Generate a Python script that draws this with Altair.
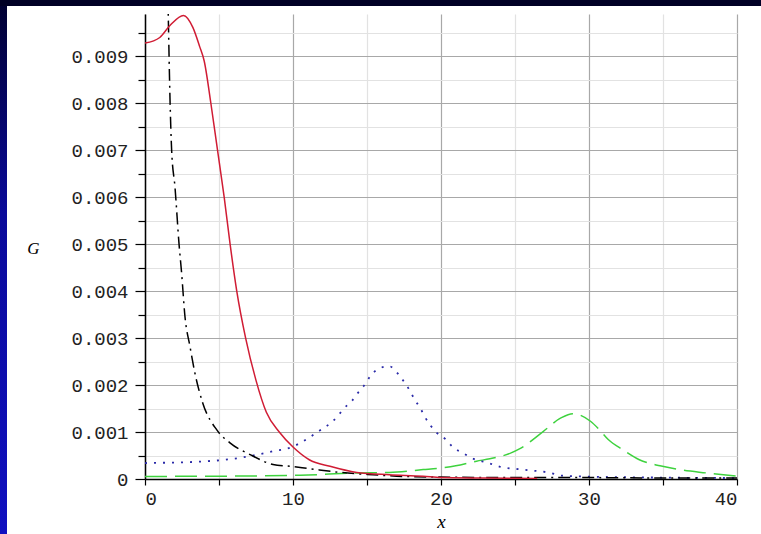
import altair as alt
import pandas as pd

# ---- data ----
red_x = [0, 1.0, 1.7, 2.6, 3.24, 3.7, 4.0, 4.45, 4.9, 5.35, 5.75, 6.2, 6.8, 7.5, 8.2, 9.1, 10.0, 11.1, 12.5, 14.3, 16.5, 18.8, 20, 23, 26.5]
red_g = [0.00928, 0.0094, 0.00966, 0.00987, 0.00961, 0.0092, 0.0089, 0.0080, 0.0070, 0.0060, 0.0050, 0.0040, 0.0030, 0.0021, 0.00142, 0.00099, 0.00068, 0.00041, 0.00027, 0.00014, 0.00009, 0.00006, 0.00003, 0.00002, 0.00001]

blk_x = [1.45, 1.57, 1.69, 1.8, 2.03, 2.3, 2.47, 2.7, 3.04, 3.37, 3.9, 4.84, 5.74, 7.1, 8.65, 9.8, 11.1, 13.2, 15.4, 17, 20, 25, 30, 35, 40]
blk_g = [0.0118, 0.0099, 0.00808, 0.0070, 0.0062, 0.0050, 0.0044, 0.00346, 0.00282, 0.00226, 0.00162, 0.00105, 0.00077, 0.00052, 0.00031, 0.00027, 0.00022, 0.00014, 0.00009, 0.00006, 0.00004, 0.00003, 0.00003, 0.00002, 0.00002]

blu_x = [0, 3.7, 6.4, 8.65, 10, 10.5, 11.8, 12.5, 13.0, 13.4, 14.0, 14.4, 14.9, 15.2, 15.8, 16.5, 17.1, 17.5, 17.9, 18.2, 18.6, 18.9, 19.7, 20.3, 20.8, 21.5, 22.2, 23.1, 24, 25.5, 27.4, 28.2, 30, 35, 40]
blu_g = [0.00034, 0.00037, 0.00045, 0.00059, 0.00069, 0.00077, 0.00103, 0.00118, 0.00133, 0.00149, 0.00167, 0.00184, 0.00203, 0.00218, 0.00235, 0.0024, 0.00224, 0.00207, 0.00188, 0.0017, 0.00151, 0.00133, 0.00099, 0.00085, 0.00068, 0.00055, 0.00043, 0.00035, 0.00026, 0.0002, 0.00013, 0.00007, 0.00005, 0.00003, 0.00002]

grn_x = [0, 5, 10.5, 14.3, 16.5, 18.8, 19.9, 21, 22.4, 23.3, 24.7, 25.3, 26.9, 28.1, 28.9, 30.1, 30.7, 31.3, 32.3, 33.4, 34.8, 36.1, 37.9, 40]
grn_g = [0.000055, 0.00006, 0.00008, 0.00013, 0.00014, 0.0002, 0.00023, 0.00028, 0.00038, 0.00043, 0.00055, 0.00064, 0.00101, 0.0013, 0.00139, 0.00123, 0.00105, 0.00084, 0.00062, 0.00041, 0.00028, 0.0002, 0.00013, 0.00006]

y_ticks = [i * 0.0005 for i in range(20)]
x_ticks = [0, 5, 10, 15, 20, 25, 30, 35, 40]

W, H = 592, 465
PL, PT, PR, PB = 145, 14, 24, 55

xscale = alt.Scale(domain=[0, 40], nice=False)
yscale = alt.Scale(domain=[0, 0.0099], nice=False, zero=True)

xaxis = alt.Axis(
    values=x_ticks,
    labelExpr="datum.value % 10 == 0 ? format(datum.value, 'd') : ''",
    title="x",
    titleFont="Liberation Serif", titleFontStyle="italic", titleFontWeight="normal",
    titleFontSize=19, titleColor="black", titleY=42, titleBaseline="middle",
    labelFont="Liberation Mono", labelFontSize=19, labelColor="#222222", labelPadding=4,
    tickSize=6, tickColor="black", tickWidth=1.2,
    domainColor="black", domainWidth=1.5,
    grid=True,
    gridColor={"condition": {"test": "datum.value % 10 == 0", "value": "#a8a8a8"}, "value": "#e2e2e2"},
    gridWidth=1.2,
)
yaxis = alt.Axis(
    values=y_ticks,
    labelExpr="round(datum.value*2000) % 2 == 0 ? format(datum.value, '.3~f') : ''",
    title="G",
    titleFont="Liberation Serif", titleFontStyle="italic", titleFontWeight="normal",
    titleFontSize=17, titleColor="black", titleAngle=0, titleX=-112, titleY=234,
    titleAlign="center", titleBaseline="middle",
    labelFont="Liberation Mono", labelFontSize=19, labelColor="#222222", labelPadding=7,
    tickSize={"condition": {"test": "round(datum.value*2000) % 2 == 0", "value": 10}, "value": 7},
    tickColor="black", tickWidth=1.2,
    domainColor="black", domainWidth=1.5,
    grid=True,
    gridColor={"condition": {"test": "round(datum.value*2000) % 2 == 0", "value": "#a8a8a8"}, "value": "#e2e2e2"},
    gridWidth=1.2,
)

one = pd.DataFrame({"a": [0]})
vgrad = alt.LinearGradient(
    gradient="linear",
    stops=[alt.GradientStop(color="#000030", offset=0), alt.GradientStop(color="#0a0a9a", offset=0.4),
           alt.GradientStop(color="#1010c0", offset=1)],
    x1=0, y1=0, x2=0, y2=1,
)
left_strip = alt.Chart(one).mark_rect(fill=vgrad, stroke="transparent").encode(
    x=alt.value(-PL), x2=alt.value(-PL + 7), y=alt.value(-PT), y2=alt.value(H + PB)
)
top_strip = alt.Chart(one).mark_rect(fill="#000026", stroke="transparent").encode(
    x=alt.value(-PL), x2=alt.value(W + PR), y=alt.value(-PT), y2=alt.value(-PT + 6)
)


def series(xs, gs, color, dash, width=1.5):
    df = pd.DataFrame({"x": xs, "G": gs})
    props = dict(color=color, strokeWidth=width, clip=True, interpolate="monotone")
    if dash:
        props["strokeDash"] = dash
    return alt.Chart(df).mark_line(**props).encode(
        x=alt.X("x:Q", scale=xscale, axis=xaxis),
        y=alt.Y("G:Q", scale=yscale, axis=yaxis),
    )


red = series(red_x, red_g, "#d01c34", None)
blk = series(blk_x, blk_g, "black", [12, 5, 2, 5])
blu = series(blu_x, blu_g, "#2a2aa8", [2, 7], 1.8)
grn = series(grn_x, grn_g, "#3ed23e", [22, 8])

chart = alt.layer(grn, blu, blk, red, left_strip, top_strip).properties(
    width=W, height=H,
    autosize=alt.AutoSizeParams(type="none"),
    padding={"left": PL, "top": PT, "right": PR, "bottom": PB},
    background="white",
).configure_view(stroke="transparent")

chart.save("out.html", embed_options={"renderer": "svg", "actions": False})
